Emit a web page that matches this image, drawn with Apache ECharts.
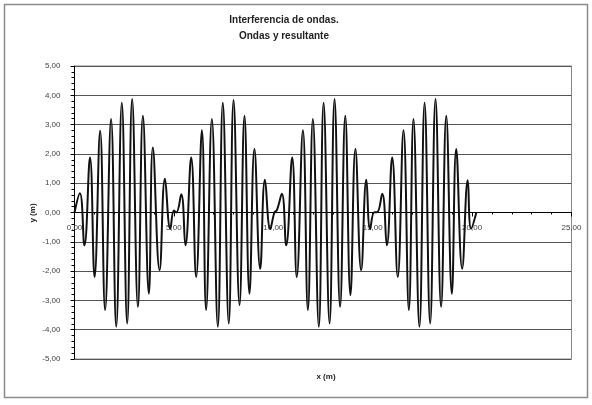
<!DOCTYPE html>
<html>
<head>
<meta charset="utf-8">
<script src="https://cdn.jsdelivr.net/npm/echarts@6/dist/echarts.min.js"></script>
<style>
  html, body { margin: 0; padding: 0; background: #fff; }
  #chart { width: 592px; height: 405px; }
</style>
</head>
<body>
<div id="chart"></div>
<script>
// Resultant wave: position x (m) and displacement y (m), peaks and troughs of the beat pattern
const xValues = [
  0.00, 0.27, 0.50, 0.78, 1.01, 1.29, 1.54, 1.84, 2.10, 2.38, 2.65, 2.90, 3.19, 3.44, 3.74, 3.94, 4.28, 4.55, 4.82, 5.00, 5.12,
  5.37, 5.58, 5.87, 6.12, 6.41, 6.62, 6.91, 7.21, 7.46, 7.76, 8.00, 8.30, 8.55, 8.80, 9.05, 9.34, 9.58, 9.85, 10.06, 10.18,
  10.43, 10.65, 10.95, 11.18, 11.49, 11.74, 11.99, 12.29, 12.53, 12.83, 13.08, 13.36, 13.62, 13.88, 14.13, 14.42, 14.68, 14.87, 15.08, 15.22,
  15.48, 15.71, 15.98, 16.26, 16.55, 16.82, 17.05, 17.35, 17.61, 17.89, 18.16, 18.44, 18.70, 18.98, 19.20, 19.50, 19.78, 19.95, 20.22
];
const yValues = [
  0.00, 0.66, -1.12, 1.88, -2.20, 2.79, -3.33, 3.19, -3.90, 3.75, -3.79, 3.87, -3.22, 3.30, -2.77, 2.22, -1.97, 1.15, -0.56, 0.07, 0.00,
  0.62, -1.12, 1.88, -2.20, 2.81, -3.33, 3.19, -3.90, 3.75, -3.79, 3.84, -3.16, 3.30, -2.77, 2.17, -1.92, 1.12, -0.56, 0.01, 0.08,
  0.64, -1.12, 1.88, -2.20, 2.81, -3.33, 3.19, -3.90, 3.75, -3.79, 3.87, -3.22, 3.30, -2.82, 2.17, -1.97, 1.12, -0.56, 0.01, 0.01,
  0.64, -1.12, 1.88, -2.20, 2.81, -3.33, 3.19, -3.90, 3.75, -3.79, 3.87, -3.22, 3.30, -2.77, 2.17, -1.92, 1.10, -0.55, 0.02
];

const titleLines = ['Interferencia de ondas.', 'Ondas y resultante'];
const xAxisTitle = 'x (m)';
const yAxisTitle = 'y (m)';

// Axis labels use a comma as decimal separator
const fmt = v => v.toFixed(2).replace('.', ',');
const FONT = '"Liberation Sans", Arial, sans-serif';

const GRID = { left: 74.5, right: 20.5, top: 66, bottom: 46 };
const gridHeight = 405 - GRID.top - GRID.bottom;
const Y_MIN = -5, Y_MAX = 5;
// The x axis crosses the y axis at y = 0: shift it up from the bottom edge
const xAxisOffset = -gridHeight * (0 - Y_MIN) / (Y_MAX - Y_MIN);

const chart = echarts.init(document.getElementById('chart'), null, { renderer: 'canvas' });

chart.setOption({
  animation: false,
  backgroundColor: '#fff',
  graphic: [
    {
      type: 'rect',
      shape: { x: 4.5, y: 4.5, width: 583, height: 393 },
      style: { fill: 'none', stroke: '#8c8c8c', lineWidth: 1.5 },
      silent: true
    },
    {
      type: 'text',
      style: {
        x: 284, y: 12, text: titleLines.join('\n'), textAlign: 'center', textVerticalAlign: 'top',
        font: 'bold 10px ' + FONT, fill: '#222', lineHeight: 16
      }
    },
    {
      type: 'text',
      style: {
        x: 326, y: 377, text: xAxisTitle, textAlign: 'center', textVerticalAlign: 'middle',
        font: 'bold 8px ' + FONT, fill: '#222'
      }
    },
    {
      type: 'text',
      rotation: Math.PI / 2,
      x: 33, y: 213,
      style: {
        x: 0, y: 0, text: yAxisTitle, textAlign: 'center', textVerticalAlign: 'middle',
        font: 'bold 8px ' + FONT, fill: '#222'
      }
    }
  ],
  grid: {
    left: GRID.left, right: GRID.right, top: GRID.top, bottom: GRID.bottom,
    show: true, borderColor: '#888', borderWidth: 1, backgroundColor: '#fff'
  },
  xAxis: {
    type: 'value', min: 0, max: 25, interval: 5,
    position: 'bottom',
    offset: xAxisOffset,
    axisLine: { onZero: false, lineStyle: { color: '#000', width: 1 } },
    axisTick: { show: true, length: 4, lineStyle: { color: '#000' } },
    minorTick: { show: true, splitNumber: 5, length: 2, lineStyle: { color: '#000' } },
    axisLabel: { formatter: fmt, fontSize: 8, color: '#444', margin: 11, fontFamily: FONT, showMinLabel: true, showMaxLabel: true },
    splitLine: { show: false }
  },
  yAxis: {
    type: 'value', min: Y_MIN, max: Y_MAX, interval: 1,
    axisLine: { show: true, onZero: false, lineStyle: { color: '#000', width: 1 } },
    axisTick: { show: true, length: 4, lineStyle: { color: '#000' } },
    minorTick: { show: true, splitNumber: 5, length: 3, lineStyle: { color: '#000' } },
    axisLabel: { formatter: fmt, fontSize: 8, color: '#444', margin: 14, fontFamily: FONT },
    splitLine: { show: true, lineStyle: { color: '#555', width: 1 } }
  },
  series: [{
    type: 'line',
    data: xValues.map((x, i) => [x, yValues[i]]),
    showSymbol: false,
    smooth: 0.45,
    lineStyle: { color: '#111', width: 2 },
    z: 3
  }]
});
</script>
</body>
</html>
